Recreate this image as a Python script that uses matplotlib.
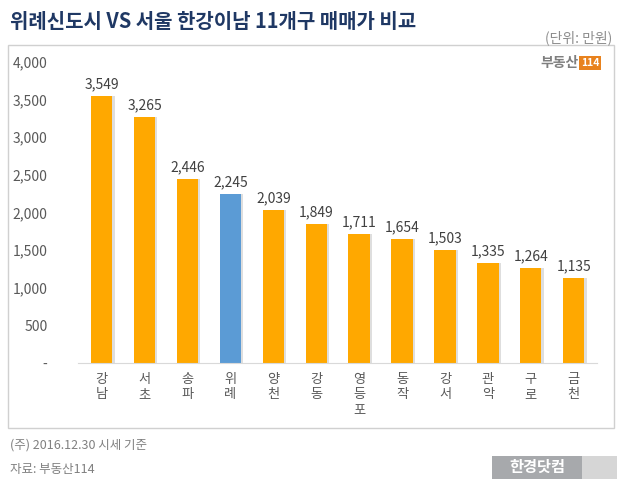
import matplotlib.pyplot as plt
from matplotlib.patches import Rectangle

plt.rcParams['font.family'] = ['Noto Sans CJK KR', 'DejaVu Sans']

districts = ["강남", "서초", "송파", "위례", "양천", "강동", "영등포", "동작", "강서", "관악", "구로", "금천"]
prices = [3549, 3265, 2446, 2245, 2039, 1849, 1711, 1654, 1503, 1335, 1264, 1135]
highlight = "위례"
yticks = [0, 500, 1000, 1500, 2000, 2500, 3000, 3500, 4000]

ORANGE = "#FFA800"
BLUE = "#5B9BD5"

fig = plt.figure(figsize=(6.3, 4.88), dpi=100)
fig.patch.set_facecolor("white")

# outer chart frame
fig.patches.append(Rectangle((8 / 630, 1 - 428 / 488), 606 / 630, 383 / 488,
                             transform=fig.transFigure, fill=False,
                             edgecolor="#D0D0D0", linewidth=1.0))

ax = fig.add_axes([0.124, 1 - 363 / 488, 0.824, 301 / 488])
x = range(len(districts))
colors = [BLUE if d == highlight else ORANGE for d in districts]
# soft shadow
ax.bar([i + 0.05 for i in x], prices, width=0.5, color="#C8C8C8", alpha=0.6, zorder=1)
ax.bar(x, prices, width=0.5, color=colors, zorder=2)

for i, v in enumerate(prices):
    ax.text(i, v + 60, f"{v:,}", ha="center", va="bottom", fontsize=10, color="#404040")

ax.set_ylim(0, 4000)
ax.set_xlim(-0.55, len(districts) - 0.45)
ax.set_yticks(yticks)
ax.set_yticklabels(["-"] + [f"{t:,}" for t in yticks[1:]], fontsize=10, color="#595959")
ax.set_xticks(list(x))
ax.set_xticklabels(["\n".join(d) for d in districts], fontsize=9.5, color="#595959",
                   linespacing=1.25, va="top")
ax.tick_params(axis="y", length=0, pad=22)
ax.tick_params(axis="x", length=0, pad=7)
for s in ["top", "right", "left"]:
    ax.spines[s].set_visible(False)
ax.spines["bottom"].set_color("#D9D9D9")

fig.text(10 / 630, 1 - 22 / 488, "위례신도시 VS 서울 한강이남 11개구 매매가 비교",
         fontsize=14.4, fontweight="bold", color="#1F3864", va="center", ha="left")
fig.text(612 / 630, 1 - 38 / 488, "(단위: 만원)", fontsize=10, color="#8C8C8C",
         va="center", ha="right")
fig.text(579 / 630, 1 - 63 / 488, "부동산", fontsize=10, fontweight="bold", color="#7F7F7F",
         va="center", ha="right")
fig.text(590 / 630, 1 - 63 / 488, "114", fontsize=7.5, fontweight="bold", color="white",
         va="center", ha="center",
         bbox=dict(boxstyle="square,pad=0.2", facecolor="#E8821E", edgecolor="none"))

fig.text(10 / 630, 1 - 445 / 488, "(주) 2016.12.30 시세 기준", fontsize=9, color="#808080",
         va="center", ha="left")
fig.text(10 / 630, 1 - 470 / 488, "자료: 부동산114", fontsize=9, color="#808080",
         va="center", ha="left")

fig.patches.append(Rectangle((492 / 630, 1 - 479 / 488), 125 / 630, 23 / 488,
                             transform=fig.transFigure, facecolor="#D6D6D6",
                             edgecolor="none"))
fig.patches.append(Rectangle((492 / 630, 1 - 479 / 488), 90 / 630, 23 / 488,
                             transform=fig.transFigure, facecolor="#A7A9AC",
                             edgecolor="none"))
fig.text(537 / 630, 1 - 467 / 488, "한경닷컴", fontsize=11, fontweight="bold",
         color="white", va="center", ha="center")

fig.savefig("out.png", dpi=100)
